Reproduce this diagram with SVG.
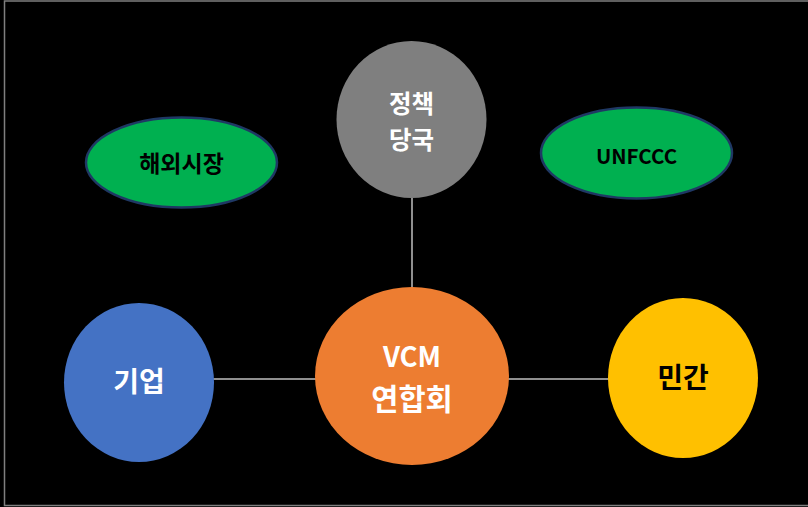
<svg xmlns="http://www.w3.org/2000/svg" width="808" height="507" viewBox="0 0 808 507">
<style>
.t{font-family:"Noto Sans CJK KR","Noto Sans",sans-serif;font-weight:bold;text-anchor:middle;dominant-baseline:central}
.w{fill:#ffffff}
.b{fill:#000000}
.conn line{stroke:#bfbfbf;stroke-width:1.5}
.g{fill:#00b050;stroke:#1f3864;stroke-width:2.5}
</style>
<rect x="0" y="0" width="808" height="507" fill="#000000"/>
<rect x="4.5" y="1" width="812" height="504.5" fill="none" stroke="#7f7f7f" stroke-width="1.5"/>
<g id="connectors" class="conn">
<line x1="412" y1="198" x2="412" y2="288"/>
<line x1="213" y1="379" x2="316" y2="379"/>
<line x1="508" y1="379" x2="609" y2="379"/>
</g>
<g id="policy">
<ellipse cx="411.5" cy="119.5" rx="75" ry="78.5" fill="#7f7f7f"/>
<text class="t w" x="411.5" y="102.5" font-size="24.5">정책</text>
<text class="t w" x="411.5" y="138" font-size="24.5">당국</text>
</g>
<g id="overseas">
<ellipse cx="181.5" cy="162.5" rx="95.5" ry="45" class="g"/>
<text class="t b" x="181.5" y="162" font-size="23">해외시장</text>
</g>
<g id="unfccc">
<ellipse cx="636.5" cy="153" rx="95.5" ry="45.5" class="g"/>
<text class="t b" x="636.5" y="155" font-size="20.5">UNFCCC</text>
</g>
<g id="vcm">
<ellipse cx="412" cy="376" rx="97" ry="89" fill="#ed7d31"/>
<text class="t w" x="412" y="355" font-size="27.5">VCM</text>
<text class="t w" x="412" y="397" font-size="29.5">연합회</text>
</g>
<g id="company">
<ellipse cx="139" cy="382.5" rx="75" ry="79.5" fill="#4472c4"/>
<text class="t w" x="139" y="380" font-size="28">기업</text>
</g>
<g id="private">
<ellipse cx="683" cy="378" rx="75" ry="80" fill="#ffc000"/>
<text class="t b" x="683" y="376" font-size="28">민간</text>
</g>
</svg>
